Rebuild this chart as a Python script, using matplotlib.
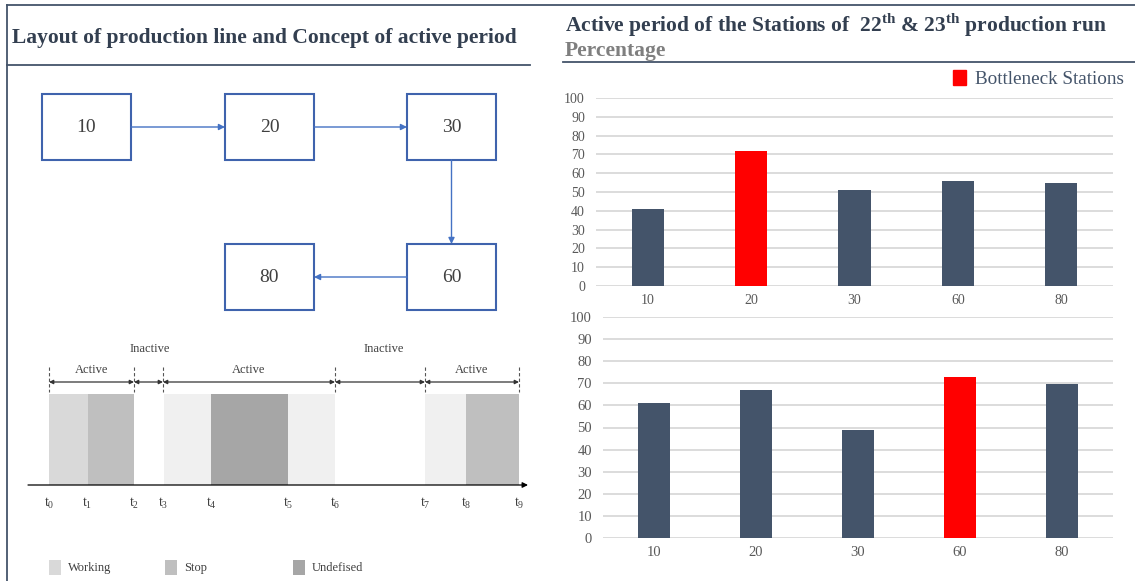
import matplotlib
matplotlib.use("Agg")
import matplotlib.pyplot as plt
from matplotlib.patches import Rectangle, Patch, FancyArrowPatch

# =============================================================================
# Data
# =============================================================================
stations = ["10", "20", "30", "60", "80"]
run_22 = [41, 72, 51, 56, 55]
run_23 = [61, 67, 49, 73, 69.5]
bottleneck_22 = "20"
bottleneck_23 = "60"

# timeline of the concept sketch (time in sketch units)
seg_start = [49, 88, 164, 211, 288, 425, 466]
seg_end = [88, 134, 211, 288, 335, 466, 519]
seg_color = ["#d9d9d9", "#bfbfbf", "#f0f0f0", "#a6a6a6", "#f0f0f0", "#f0f0f0", "#bfbfbf"]
t_pos = [49, 87, 134, 163, 211, 288, 335, 425, 466, 519]
t_labels = ["t0", "t1", "t2", "t3", "t4", "t5", "t6", "t7", "t8", "t9"]
period_bounds = [49, 134, 163, 335, 425, 519]
period_names = ["Active", "Inactive", "Active", "Inactive", "Active"]
legend_names = ["Working", "Stop", "Undefised"]
legend_colors = ["#d9d9d9", "#bfbfbf", "#a6a6a6"]

# flow layout: station -> (left, top) of its box
flow_boxes = {"10": (42, 94), "20": (225, 94), "30": (407, 94),
              "80": (225, 244), "60": (407, 244)}

plt.rcParams["font.family"] = ["Liberation Serif", "DejaVu Serif"]
plt.rcParams["mathtext.fontset"] = "custom"
plt.rcParams["mathtext.rm"] = "Liberation Serif"
plt.rcParams["mathtext.bf"] = "Liberation Serif:bold"

W, H = 1135, 581
NAVY = "#44546a"
BAR = "#44546a"
BLUE = "#4472c4"
TXT = "#404040"

fig = plt.figure(figsize=(W / 100, H / 100), dpi=100, facecolor="white")

# overlay in pixel coordinates
ov = fig.add_axes([0, 0, 1, 1])
ov.set_xlim(0, W)
ov.set_ylim(H, 0)
ov.axis("off")

# frame lines
ov.plot([7, 7], [5, H], color=NAVY, lw=1.3)
ov.plot([7, W], [5, 5], color=NAVY, lw=1.3)
ov.plot([7, 530], [65, 65], color=NAVY, lw=1.3)
ov.plot([563, W], [62, 62], color=NAVY, lw=1.3)

# titles
ov.text(12, 38, "Layout of production line and Concept of active period",
        fontsize=15.5, fontweight="bold", color="#333f50", va="center")
ov.text(565, 25, r"Active period of the Stations of  22$^{\mathbf{th}}$ & 23$^{\mathbf{th}}$ production run",
        fontsize=15.5, fontweight="bold", color="#333f50", va="center")
ov.text(565, 51, "Percentage", fontsize=15.5, fontweight="bold", color="#7f7f7f", va="center")

#------------------------------------------
# Flow diagram
#------------------------------------------
bw, bh = 89, 66
for name, (x0, y0) in flow_boxes.items():
    ov.add_patch(Rectangle((x0, y0), bw, bh, fill=False, edgecolor="#3f63ad", lw=1.5))
    ov.text(x0 + bw / 2, y0 + bh / 2, name, fontsize=14, color=TXT, ha="center", va="center")

def flow_arrow(p0, p1):
    ov.add_patch(FancyArrowPatch(p0, p1, arrowstyle="-|>", mutation_scale=9,
                                 color=BLUE, lw=1, shrinkA=0, shrinkB=0))

def right_mid(n):
    x0, y0 = flow_boxes[n]
    return (x0 + bw, y0 + bh / 2)

def left_mid(n):
    x0, y0 = flow_boxes[n]
    return (x0, y0 + bh / 2)

flow_arrow(right_mid("10"), left_mid("20"))
flow_arrow(right_mid("20"), left_mid("30"))
x30, y30 = flow_boxes["30"]
x60, y60 = flow_boxes["60"]
flow_arrow((x30 + bw / 2, y30 + bh), (x60 + bw / 2, y60))
flow_arrow(left_mid("60"), right_mid("80"))

#------------------------------------------
# Timeline sketch
#------------------------------------------
base_y, top_y = 485, 394
for s, e, c in zip(seg_start, seg_end, seg_color):
    ov.add_patch(Rectangle((s, top_y), e - s, base_y - top_y, facecolor=c, edgecolor="none"))
ov.add_patch(FancyArrowPatch((28, base_y), (528, base_y), arrowstyle="-|>", mutation_scale=8,
                             color="black", lw=0.9, shrinkA=0, shrinkB=0))
for x, lab in zip(t_pos, t_labels):
    ov.text(x, 503, r"$\mathrm{t_{%s}}$" % lab[1:], fontsize=10, color=TXT, ha="center", va="center")

for x in period_bounds:
    ov.plot([x, x], [367, 392], color="#555555", lw=0.8, ls=(0, (3, 2)))
for i, name in enumerate(period_names):
    a, b = period_bounds[i], period_bounds[i + 1]
    ov.add_patch(FancyArrowPatch((a, 382), (b, 382), arrowstyle="<|-|>", mutation_scale=6,
                                 color="#333333", lw=0.9, shrinkA=0, shrinkB=0))
    if name == "Active":
        ov.text((a + b) / 2, 370, name, fontsize=9, color=TXT, ha="center", va="center")
ov.text(150, 349, "Inactive", fontsize=9, color=TXT, ha="center", va="center")
ov.text(384, 349, "Inactive", fontsize=9, color=TXT, ha="center", va="center")

for x, name, c in zip([49, 165, 293], legend_names, legend_colors):
    ov.add_patch(Rectangle((x, 560), 12, 15, facecolor=c, edgecolor="none"))
    ov.text(x + 19, 568, name, fontsize=9, color=TXT, va="center")

#------------------------------------------
# Bar charts
#------------------------------------------
def bar_panel(rect, values, bottleneck, fs):
    ax = fig.add_axes(rect)
    colors = ["red" if s == bottleneck else BAR for s in stations]
    ax.bar(range(len(stations)), values, width=0.31, color=colors, zorder=3)
    ax.set_xlim(-0.5, len(stations) - 0.5)
    ax.set_ylim(0, 100)
    ax.set_yticks(range(0, 101, 10))
    ax.set_xticks(range(len(stations)))
    ax.set_xticklabels(stations)
    ax.yaxis.grid(True, color="#d9d9d9", lw=1.3)
    ax.set_axisbelow(True)
    for sp in ax.spines.values():
        sp.set_visible(False)
    ax.tick_params(length=0, labelsize=fs, colors="#595959")
    ax.tick_params(axis="y", pad=8)
    ax.tick_params(axis="x", pad=6)
    return ax

ax_top = bar_panel([596 / W, (H - 286) / H, 517 / W, 188 / H], run_22, bottleneck_22, 10)
ax_bot = bar_panel([603 / W, (H - 538) / H, 510 / W, 221 / H], run_23, bottleneck_23, 10.5)

fig.legend(handles=[Patch(color="red", label="Bottleneck Stations")], loc="lower right",
           bbox_to_anchor=(1124 / W, (H - 88) / H), frameon=False, fontsize=13.8,
           handlelength=0.7, handleheight=0.85, handletextpad=0.45, borderpad=0,
           borderaxespad=0, labelcolor="#44546a")

plt.savefig("out.png", dpi=100)
plt.close()
